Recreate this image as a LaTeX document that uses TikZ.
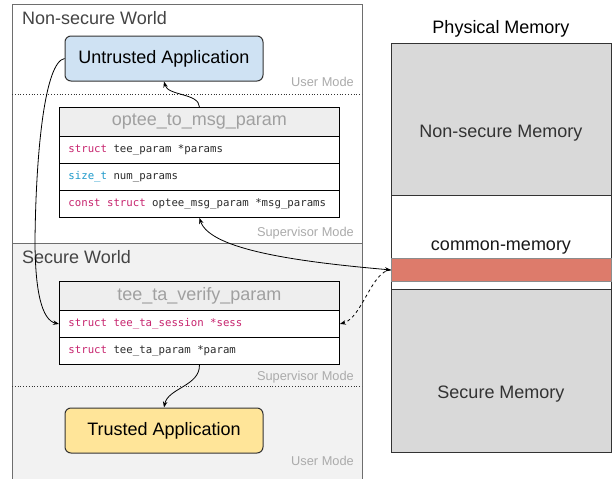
\documentclass[tikz,border=0pt]{standalone}
\usepackage{fontspec}
\setmainfont{Liberation Sans}
\setmonofont{DejaVu Sans Mono}
\usetikzlibrary{arrows.meta}

\definecolor{frame}{HTML}{6E6E6E}
\definecolor{securebg}{HTML}{F2F2F2}
\definecolor{worldtxt}{HTML}{444444}
\definecolor{modetxt}{HTML}{ABABAB}
\definecolor{hdrfill}{HTML}{EEEEEE}
\definecolor{hdrtxt}{HTML}{A0A0A0}
\definecolor{kwcol}{HTML}{C7246E}
\definecolor{tycol}{HTML}{1E9ACB}
\definecolor{codetxt}{HTML}{2B2B2B}
\definecolor{uafill}{HTML}{CFE2F3}
\definecolor{tafill}{HTML}{FFE599}
\definecolor{memgray}{HTML}{D9D9D9}
\definecolor{bandred}{HTML}{DD7B6B}

\newcommand{\kwd}[1]{\textcolor{kwcol}{#1}}
\newcommand{\typ}[1]{\textcolor{tycol}{#1}}
\newcommand{\bigtxt}{\fontsize{18}{21}\selectfont}
\newcommand{\modetxt}{\fontsize{12.8}{15}\selectfont}
\newcommand{\codetxt}{\fontsize{10.7}{13}\selectfont\ttfamily}
% one line of code, with a full character-wide space between words
\newcommand{\codeln}[1]{\spaceskip=0.602em\relax\xspaceskip=0.602em\relax #1}

\begin{document}
\begin{tikzpicture}[x=1pt, y=-1pt,
  world/.style={draw=frame, line width=1.3pt, inner sep=0, anchor=north west},
  worldlbl/.style={anchor=base west, inner sep=0, text=worldtxt, font=\bigtxt},
  modelbl/.style={anchor=base east, inner sep=0, text=modetxt, font=\modetxt},
  sep/.style={draw=black!80, dotted, line width=0.8pt},
  app/.style={draw=black!80, rounded corners=6pt, line width=1pt,
    minimum width=198pt, minimum height=45pt, inner sep=0, font=\bigtxt},
  hdr/.style={draw=black, line width=0.9pt, fill=hdrfill, minimum width=280pt,
    minimum height=29pt, inner sep=0, anchor=north west, text=hdrtxt, font=\bigtxt},
  field/.style={draw=black, line width=0.9pt, fill=white, minimum height=27pt,
    inner xsep=9pt, inner ysep=0, text width=262pt, align=left,
    anchor=north west, font=\codetxt, text=codetxt},
  memblk/.style={draw=black!80, line width=0.9pt, minimum width=220pt,
    inner sep=0, anchor=north west},
  memlbl/.style={anchor=base, inner sep=0, font=\bigtxt},
  link/.style={draw=black, line width=0.8pt},
  tip/.style={-{Stealth[length=6pt,width=4.5pt]}}
]
\useasboundingbox (0,0) rectangle (614,479);

% ---- the two worlds ----
\node[world, fill=white, minimum width=350pt, minimum height=239pt] (nsw) at (12,4) {};
\node[world, fill=securebg, minimum width=350pt, minimum height=240pt] (sw) at (12,243) {};
\node[worldlbl] (nswl) at (22,24) {Non-secure World};
\node[worldlbl] (swl) at (22,263) {Secure World};

% mode separators
\coordinate (d1l) at (12,94);  \coordinate (d1r) at (362,94);
\coordinate (d2l) at (12,386); \coordinate (d2r) at (362,386);
\draw[sep] (d1l) -- (d1r);
\draw[sep] (d2l) -- (d2r);

\node[modelbl] (um1) at (354,86) {User Mode};
\node[modelbl] (sm1) at (354,236) {Supervisor Mode};
\node[modelbl] (sm2) at (354,380) {Supervisor Mode};
\node[modelbl] (um2) at (354,465) {User Mode};

% ---- applications ----
\node[app, fill=uafill] (ua) at (164,58.5) {Untrusted Application};
\node[app, fill=tafill] (ta) at (164,430.5) {Trusted Application};

% ---- optee_to_msg_param ----
\node[hdr] (oh) at (59,107) {optee\_to\_msg\_param};
\node[field] (op) at (59,136) {\codeln{\kwd{struct} tee\_param *params}};
\node[field] (on) at (59,163) {\codeln{\typ{size\_t} num\_params}};
\node[field] (om) at (59,190) {\codeln{\kwd{const} \kwd{struct} optee\_msg\_param *msg\_params}};

% ---- tee_ta_verify_param ----
\node[hdr] (th) at (59,281) {tee\_ta\_verify\_param};
\node[field] (ts) at (59,310) {\codeln{\kwd{struct tee\_ta\_session *sess}}};
\node[field] (tp) at (59,337) {\codeln{\kwd{struct} tee\_ta\_param *param}};

% ---- physical memory ----
\node[anchor=base, inner sep=0, font=\bigtxt] (pmt) at (501,33) {Physical Memory};
\node[memblk, fill=memgray, minimum height=152pt] (nsm) at (391,43) {};
\node[memblk, fill=white, minimum height=63pt] (cm) at (391,195) {};
\node[memblk, fill=white, minimum height=31pt] (cms) at (391,258) {};
\node[memblk, draw=black!45, fill=bandred, minimum height=23pt] (band) at (391,258) {};
\node[memblk, fill=memgray, minimum height=163pt] (sm) at (391,289) {};
\node[memlbl, text=black!80] (nsml) at (501,137) {Non-secure Memory};
\node[memlbl, text=black!90] (cml) at (501,250) {common-memory};
\node[memlbl, text=black!80] (sml) at (501,398) {Secure Memory};

% ---- connectors ----
\draw[link, tip] (oh.north) .. controls (199,93) and (168,96) .. (ua.south);
\draw[link, tip] (ua.west) .. controls (45,62) and (36,150) .. (35,240)
  .. controls (35,292) and (42,320) .. (ts.west);
\draw[link, {Stealth[length=6pt,width=4.5pt]}-{Stealth[length=6pt,width=4.5pt]}]
  (om.south) .. controls (210,250) and (300,262) .. (band.west);
\draw[link, tip, dashed] (band.west) .. controls (372,270) and (362,318) .. (ts.east);
\draw[link, tip] (tp.south) .. controls (200,386) and (168,388) .. (ta.north);
\end{tikzpicture}
\end{document}
